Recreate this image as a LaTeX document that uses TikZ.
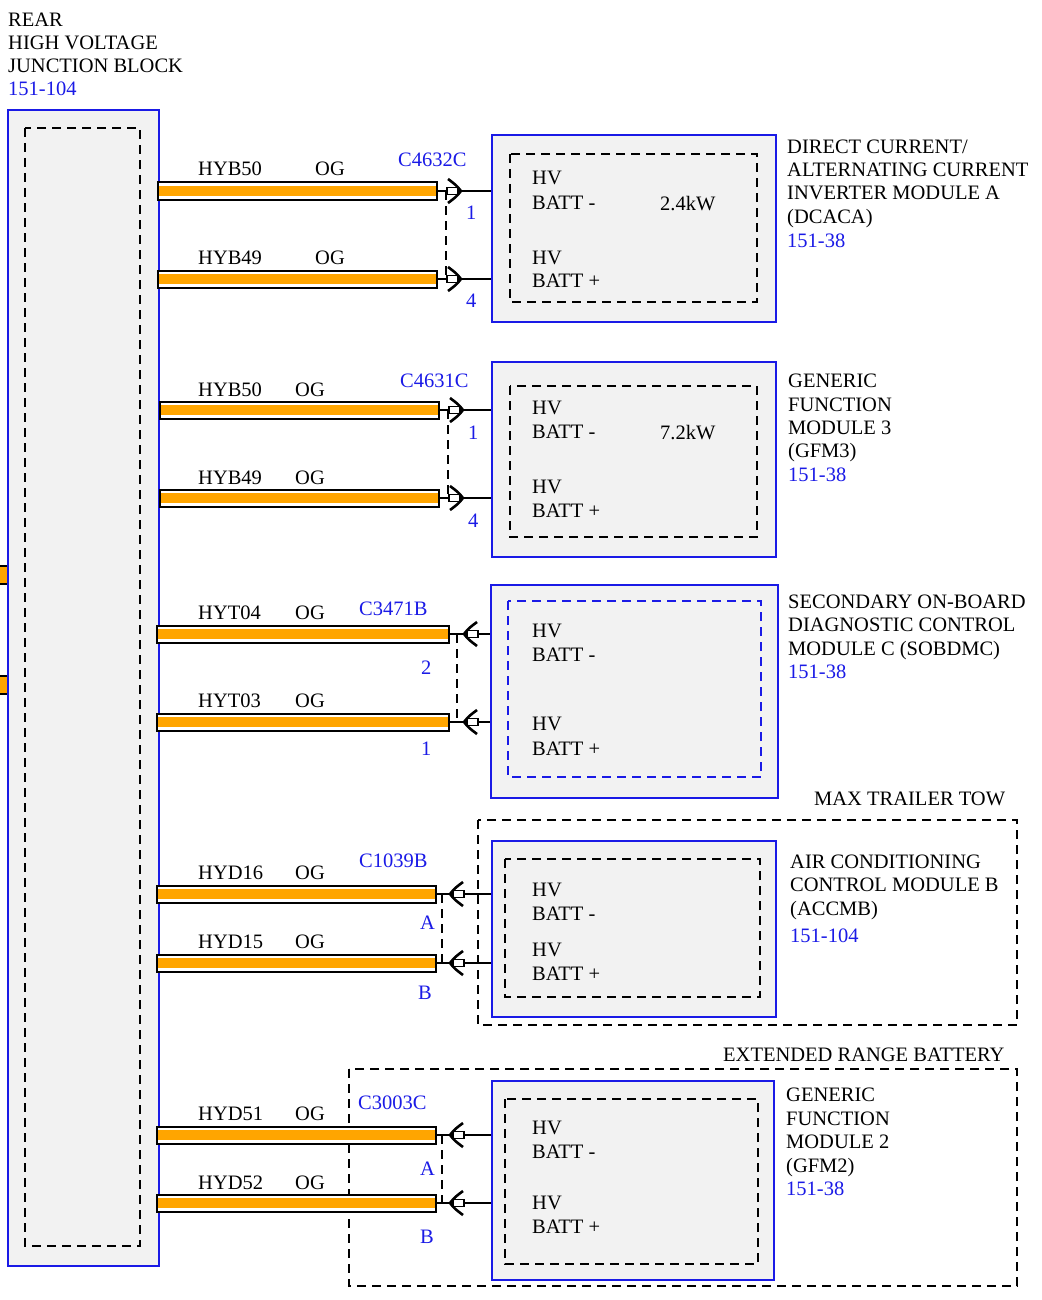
\documentclass[tikz,border=0pt]{standalone}
\usepackage{fontspec}
\setmainfont{Liberation Serif}
\definecolor{og}{HTML}{FFA500}
\definecolor{bl}{HTML}{1A1AE6}
\definecolor{gr}{HTML}{F2F2F2}
\newcommand\hvwire[4]{%
 \draw[black,line width=2pt,fill=white] (#2,#4-8.5) rectangle (#3,#4+8.5);
 \fill[og] (#2+1,#4-5) rectangle (#3-1,#4+5);
 \coordinate (#1) at (#3,#4);}
\newcommand\pinR[2]{% chevron pointing right at x
 \draw[line width=1.4pt,fill=white] (#1-9,#2-3.5) rectangle (#1+2,#2+3.5);
 \draw[line width=2.6pt] (#1-8,#2-12) .. controls (#1,#2-6) .. (#1+5,#2) .. controls (#1,#2+6) .. (#1-8,#2+12);}
\newcommand\pinL[2]{%
 \draw[line width=1.4pt,fill=white] (#1-2,#2-3.5) rectangle (#1+9,#2+3.5);
 \draw[line width=2.6pt] (#1+8,#2-12) .. controls (#1,#2-6) .. (#1-5,#2) .. controls (#1,#2+6) .. (#1+8,#2+12);}
\begin{document}
\begin{tikzpicture}[x=1pt,y=-1pt,
 every node/.style={font=\fontsize{20.5}{23}\selectfont,inner sep=0pt,anchor=base west},
 blu/.style={text=bl},
 box/.style={draw=bl,line width=2pt,fill=gr},
 dsh/.style={line width=1.8pt,dash pattern=on 9pt off 6pt},
 ln/.style={line width=1.8pt}]
\useasboundingbox (0,0) rectangle (1041,1300);
% left block
\fill[og] (0,567) rectangle (7,583); \draw[line width=2pt] (0,566) -- (7,566) (0,584)--(7,584);
\fill[og] (0,677) rectangle (7,693); \draw[line width=2pt] (0,676) -- (7,676) (0,694)--(7,694);
\node[box,anchor=north west,minimum width=151pt,minimum height=1156pt] (jb) at (7,109) {};
\draw[dsh] (25,128) rectangle (140,1246);
\node (t1) at (8,27) {REAR};
\node at (8,50) {HIGH VOLTAGE};
\node at (8,73) {JUNCTION BLOCK};
\node[blu] at (8,96) {151-104};
% ---- group 1
\node[box,anchor=north west,minimum width=284pt,minimum height=187pt] (m1) at (491,134) {};
\draw[dsh] (510,154) rectangle (757,302);
\node at (532,185) {HV}; \node at (532,209) {BATT -}; \node at (660,211) {2.4kW};
\node at (532,264) {HV}; \node at (532,287) {BATT +};
\node at (787,154) {DIRECT CURRENT/}; \node at (787,177) {ALTERNATING CURRENT};
\node at (787,200) {INVERTER MODULE A}; \node at (787,223) {(DCACA)}; \node[blu] at (787,247) {151-38};
\hvwire{w1a}{158}{437}{191}\hvwire{w1b}{158}{437}{279}
\draw[ln] (w1a) -- (491,191); \draw[ln] (w1b) -- (491,279);
\draw[dsh] (446,191) -- (446,279);
\pinR{456}{191}\pinR{456}{279}
\node at (198,176) {HYB50}; \node at (315,176) {OG}; \node[blu] at (398,167) {C4632C};
\node at (198,264) {HYB49}; \node at (315,264) {OG};
\node[blu] at (466,219) {1}; \node[blu] at (466,307) {4};
% ---- group 2
\node[box,anchor=north west,minimum width=284pt,minimum height=195pt] (m2) at (491,361) {};
\draw[dsh] (510,386) rectangle (757,537);
\node at (532,414) {HV}; \node at (532,438) {BATT -}; \node at (660,439) {7.2kW};
\node at (532,493) {HV}; \node at (532,517) {BATT +};
\node at (788,387) {GENERIC}; \node at (788,411) {FUNCTION}; \node at (788,434) {MODULE 3};
\node at (788,457) {(GFM3)}; \node[blu] at (788,481) {151-38};
\hvwire{w2a}{160}{439}{410}\hvwire{w2b}{160}{439}{498}
\draw[ln] (w2a) -- (491,410); \draw[ln] (w2b) -- (491,498);
\draw[dsh] (448,410) -- (448,498);
\pinR{458}{410}\pinR{458}{498}
\node at (198,396) {HYB50}; \node at (295,396) {OG}; \node[blu] at (400,387) {C4631C};
\node at (198,484) {HYB49}; \node at (295,484) {OG};
\node[blu] at (468,439) {1}; \node[blu] at (468,527) {4};
% ---- group 3
\node[box,anchor=north west,minimum width=287pt,minimum height=213pt] (m3) at (490,584) {};
\draw[dsh,draw=bl] (508,601) rectangle (761,777);
\node at (532,637) {HV}; \node at (532,661) {BATT -};
\node at (532,730) {HV}; \node at (532,755) {BATT +};
\node at (788,608) {SECONDARY ON-BOARD}; \node at (788,631) {DIAGNOSTIC CONTROL};
\node at (788,655) {MODULE C (SOBDMC)}; \node[blu] at (788,678) {151-38};
\hvwire{w3a}{157}{449}{634}\hvwire{w3b}{157}{449}{722}
\draw[ln] (w3a) -- (490,634); \draw[ln] (w3b) -- (490,722);
\draw[dsh] (457,634) -- (457,722);
\pinL{469}{634}\pinL{469}{722}
\node at (198,619) {HYT04}; \node at (295,619) {OG}; \node[blu] at (359,615) {C3471B};
\node at (198,707) {HYT03}; \node at (295,707) {OG};
\node[blu] at (421,674) {2}; \node[blu] at (421,755) {1};
% ---- group 4
\node at (814,805) {MAX TRAILER TOW};
\draw[dsh] (478,820) rectangle (1017,1025);
\node[box,anchor=north west,minimum width=284pt,minimum height=176pt] (m4) at (491,840) {};
\draw[dsh] (505,859) rectangle (760,997);
\node at (532,896) {HV}; \node at (532,920) {BATT -};
\node at (532,956) {HV}; \node at (532,980) {BATT +};
\node at (790,868) {AIR CONDITIONING}; \node at (790,891) {CONTROL MODULE B};
\node at (790,915) {(ACCMB)}; \node[blu] at (790,942) {151-104};
\hvwire{w4a}{157}{436}{894}\hvwire{w4b}{157}{436}{963}
\draw[ln] (w4a) -- (491,894); \draw[ln] (w4b) -- (491,963);
\draw[dsh] (442,894) -- (442,963);
\pinL{455}{894}\pinL{455}{963}
\node at (198,879) {HYD16}; \node at (295,879) {OG}; \node[blu] at (359,867) {C1039B};
\node at (198,948) {HYD15}; \node at (295,948) {OG};
\node[blu] at (420,929) {A}; \node[blu] at (418,999) {B};
% ---- group 5
\node at (723,1061) {EXTENDED RANGE BATTERY};
\draw[dsh] (349,1069) rectangle (1017,1286);
\node[box,anchor=north west,minimum width=282pt,minimum height=199pt] (m5) at (491,1080) {};
\draw[dsh] (505,1099) rectangle (758,1264);
\node at (532,1134) {HV}; \node at (532,1158) {BATT -};
\node at (532,1209) {HV}; \node at (532,1233) {BATT +};
\node at (786,1101) {GENERIC}; \node at (786,1125) {FUNCTION}; \node at (786,1148) {MODULE 2};
\node at (786,1172) {(GFM2)}; \node[blu] at (786,1195) {151-38};
\hvwire{w5a}{157}{436}{1135}\hvwire{w5b}{157}{436}{1203}
\draw[ln] (w5a) -- (491,1135); \draw[ln] (w5b) -- (491,1203);
\draw[dsh] (442,1135) -- (442,1203);
\pinL{455}{1135}\pinL{455}{1203}
\node at (198,1120) {HYD51}; \node at (295,1120) {OG}; \node[blu] at (358,1109) {C3003C};
\node at (198,1189) {HYD52}; \node at (295,1189) {OG};
\node[blu] at (420,1175) {A}; \node[blu] at (420,1243) {B};
\end{tikzpicture}
\end{document}
